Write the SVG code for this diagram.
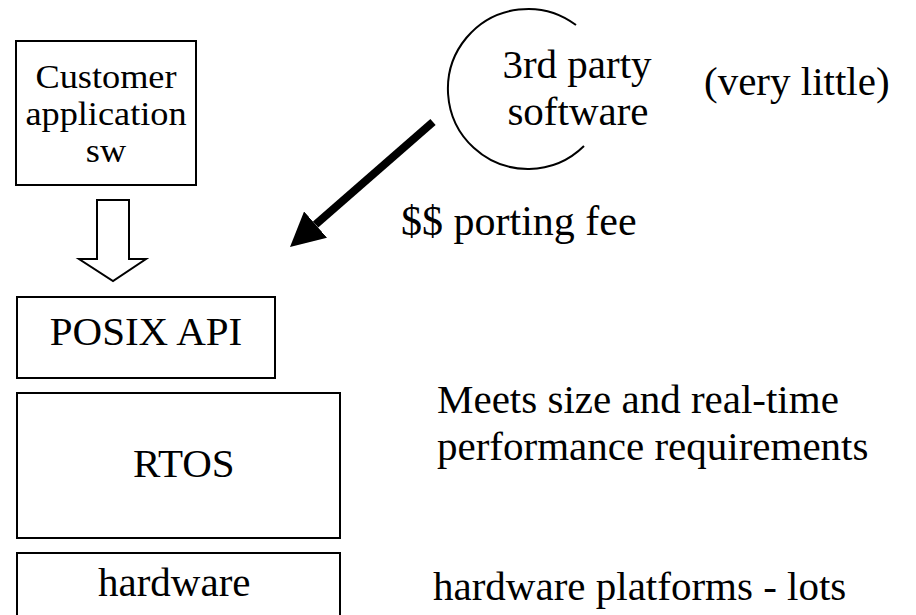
<svg xmlns="http://www.w3.org/2000/svg" width="916" height="615" viewBox="0 0 916 615">
  <style>
    .box { fill: #ffffff; stroke: #000000; stroke-width: 2; }
    text { fill: #000000; }
    .t { font-size: 41px; }
    .ts { font-size: 33px; }
    .mid { text-anchor: middle; }
  </style>
  <defs>
    <marker id="head" markerUnits="userSpaceOnUse" markerWidth="34" markerHeight="35" viewBox="0 0 34 35" refX="0" refY="17.5" orient="auto">
      <path d="M0,0 L34,17.5 L0,35 Z" fill="#000000"/>
    </marker>
  </defs>
  <rect width="916" height="615" fill="#ffffff"/>

  <g font-family="Liberation Serif, Tinos, DejaVu Serif, serif">
  <!-- software / platform stack -->
  <g id="customer-app">
    <rect class="box" x="16" y="41" width="180" height="144"/>
    <g transform="translate(106 0) scale(1.1 1)">
      <text class="ts mid" x="0" y="88">Customer</text>
      <text class="ts mid" x="0" y="125">application</text>
      <text class="ts mid" x="0" y="162">sw</text>
    </g>
  </g>

  <g id="posix-api">
    <rect class="box" x="17" y="297" width="258" height="81"/>
    <text class="t mid" x="146" y="345">POSIX API</text>
  </g>

  <g id="rtos">
    <rect class="box" x="17" y="393" width="323" height="145"/>
    <text class="t" x="133" y="477">RTOS</text>
  </g>

  <g id="hardware">
    <rect class="box" x="17" y="553" width="323" height="80"/>
    <text class="t" x="98" y="596">hardware</text>
  </g>

  <g id="third-party">
    <path d="M576,25 A80,80 0 1 0 584,146" fill="none" stroke="#000000" stroke-width="2"/>
    <text class="t mid" x="577" y="78">3rd party</text>
    <text class="t mid" x="578" y="125">software</text>
  </g>

  <!-- side notes -->
  <g id="notes">
    <text class="t" x="704" y="95">(very little)</text>
    <text font-size="42" x="401" y="235">$$ porting fee</text>
    <text class="t" x="437" y="413">Meets size and real-time</text>
    <text class="t" x="437" y="460">performance requirements</text>
    <text class="t" x="433" y="600">hardware platforms - lots</text>
  </g>
  </g>

  <g id="connectors">
    <!-- hollow block arrow: application down onto the API -->
    <polygon class="box" points="97,200 129,200 129,259 146,259 113,281 79,259 97,259"/>
    <!-- heavy arrow: third-party code ported in -->
    <line x1="433" y1="122" x2="315.6" y2="224.6" stroke="#000000" stroke-width="8" marker-end="url(#head)"/>
  </g>
</svg>
